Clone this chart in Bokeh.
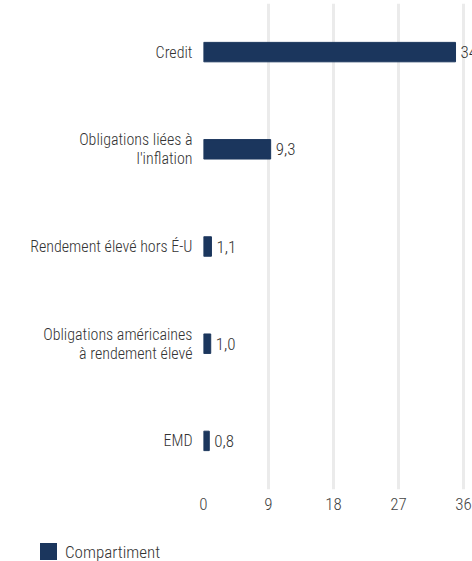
from bokeh.plotting import figure
from bokeh.layouts import column
from bokeh.models import FactorRange, Range1d, FixedTicker, ColumnDataSource, Div
from bokeh.core.properties import value
from bokeh.embed import file_html
from bokeh.resources import INLINE

categories = ["Credit", "Obligations liées à\nl'inflation", "Rendement élevé hors É-U",
              "Obligations américaines\nà rendement élevé", "EMD"]
values = [34.9, 9.3, 1.1, 1.0, 0.8]
ticks = [0, 9, 18, 27, 36]
series_name = "Compartiment"

FONT = "Roboto Condensed Light"
BAR = "#1b365d"

labels = [f"{v:.1f}".replace(".", ",") for v in values]
src = ColumnDataSource(dict(cat=categories, val=values, lab=labels))

p = figure(width=472, height=535, output_backend="svg", toolbar_location=None,
           y_range=FactorRange(factors=list(reversed(categories))),
           x_range=Range1d(0, 37.25))
p.min_border_left = 203
p.min_border_right = 0
p.min_border_top = 3
p.min_border_bottom = 46
p.outline_line_color = None
p.background_fill_color = "white"
p.border_fill_color = "white"

r = p.hbar(y="cat", right="val", height=0.2, left=0, source=src, color=BAR,
           legend_label=series_name)
p.legend.visible = False
p.text(x="val", y="cat", text="lab", source=src, x_offset=5, text_baseline="middle",
       text_align="left", text_font=value(FONT), text_font_size="17px", text_color="#333333")

p.xaxis.ticker = FixedTicker(ticks=ticks)
p.xaxis.axis_line_color = None
p.xaxis.major_tick_line_color = None
p.xaxis.minor_tick_line_color = None
p.xaxis.major_label_text_font = FONT
p.xaxis.major_label_text_font_size = "17px"
p.xaxis.major_label_text_color = "#444444"
p.xaxis.major_label_standoff = 2

p.yaxis.axis_line_color = None
p.yaxis.major_tick_line_color = None
p.yaxis.minor_tick_line_color = None
p.yaxis.major_label_text_font = FONT
p.yaxis.major_label_text_font_size = "16px"
p.yaxis.major_label_text_color = "#333333"
p.yaxis.major_label_text_line_height = 1.0
p.yaxis.major_label_standoff = 5

p.xgrid.grid_line_color = "#ebebeb"
p.xgrid.grid_line_width = 3
p.ygrid.grid_line_color = None

legend_html = (
    f'<div style="display:flex;align-items:flex-start;padding:8px 0 0 40px;margin:0;'
    f'font-family:\'{FONT}\';font-size:17px;color:#333333;line-height:17px;">'
    f'<span style="display:inline-block;width:17px;height:17px;background:{BAR};"></span>'
    f'<span style="margin-left:8px;padding-top:1px;">{series_name}</span></div>'
)
legend_div = Div(text=legend_html, width=472, height=26, margin=(0, 0, 0, 0))

layout = column(p, legend_div, spacing=0)
open("out.html", "w").write(file_html(layout, INLINE))
